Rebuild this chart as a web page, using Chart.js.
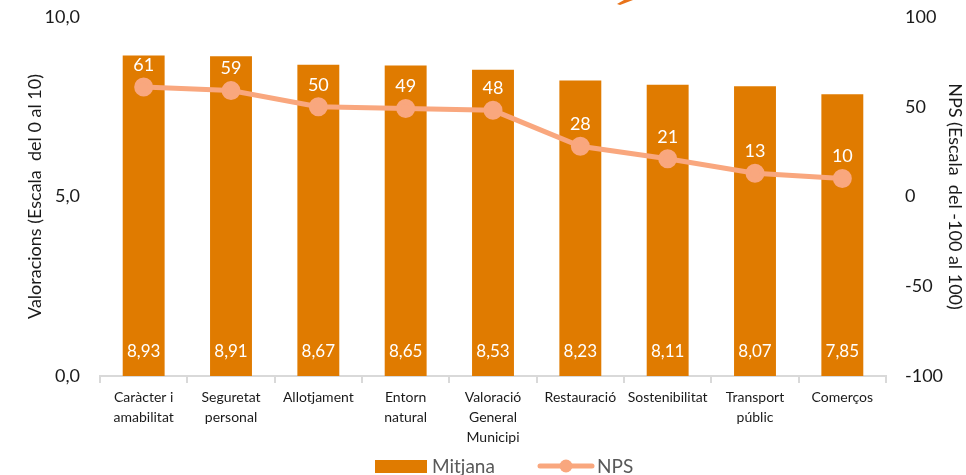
<!doctype html>
<html lang="ca">
<head>
<meta charset="UTF-8">
<title>Valoracions i NPS</title>
<script src="https://cdn.jsdelivr.net/npm/chart.js"></script>
<style>
  html, body { margin: 0; padding: 0; background: #fff; }
  #wrap { width: 966px; height: 475px; position: relative; }
</style>
</head>
<body>
<div id="wrap"><canvas id="chart"></canvas></div>
<script>
// dades
const categories = [
  ["Caràcter i", "amabilitat"],
  ["Seguretat", "personal"],
  "Allotjament",
  ["Entorn", "natural"],
  ["Valoració", "General", "Municipi"],
  "Restauració",
  "Sostenibilitat",
  ["Transport", "públic"],
  "Comerços"
];
const mitjana = [8.93, 8.91, 8.67, 8.65, 8.53, 8.23, 8.11, 8.07, 7.85];
const nps = [61, 59, 50, 49, 48, 28, 21, 13, 10];
const leftTicks = [0, 5, 10];
const rightTicks = [-100, -50, 0, 50, 100];

const BAR = "#E07B00";
const LINE = "#F9A77E";
const FONT = "Lato, 'Open Sans', sans-serif";

// etiquetes de valors + llegenda
const labelsPlugin = {
  id: "labels",
  beforeDraw(chart) {
    // tros de forma taronja retallat a dalt
    const ctx = chart.ctx;
    ctx.save();
    ctx.fillStyle = "#E8731A";
    ctx.beginPath();
    ctx.moveTo(617, 4);
    ctx.lineTo(624, 0);
    ctx.lineTo(633, 0);
    ctx.lineTo(620, 5);
    ctx.closePath();
    ctx.fill();
    ctx.restore();
  },
  afterDatasetsDraw(chart) {
    const ctx = chart.ctx;
    ctx.save();
    ctx.fillStyle = "#fff";
    ctx.textAlign = "center";
    ctx.textBaseline = "middle";
    ctx.font = "17px " + FONT;
    const y0 = chart.scales.y.getPixelForValue(0);
    chart.getDatasetMeta(1).data.forEach((bar, i) => {
      ctx.fillText(mitjana[i].toFixed(2).replace(".", ","), bar.x, y0 - 24);
    });
    ctx.font = "18px " + FONT;
    chart.getDatasetMeta(0).data.forEach((pt, i) => {
      ctx.fillText(String(nps[i]), pt.x, pt.y - 22);
    });
    ctx.restore();
  },
  afterDraw(chart) {
    const ctx = chart.ctx;
    ctx.save();
    const y = 466;
    ctx.fillStyle = BAR;
    ctx.fillRect(375, y - 6, 52, 13);
    ctx.fillStyle = "#595959";
    ctx.font = "19px " + FONT;
    ctx.textBaseline = "middle";
    ctx.fillText("Mitjana", 432, y + 1);
    ctx.strokeStyle = LINE;
    ctx.lineWidth = 5;
    ctx.lineCap = "round";
    ctx.beginPath();
    ctx.moveTo(540, y);
    ctx.lineTo(592, y);
    ctx.stroke();
    ctx.fillStyle = LINE;
    ctx.beginPath();
    ctx.arc(566, y, 6.5, 0, Math.PI * 2);
    ctx.fill();
    ctx.fillStyle = "#595959";
    ctx.fillText("NPS", 597, y + 1);
    ctx.restore();
  }
};

function fixY(width) {
  return s => { s.width = width; s.paddingTop = 0; s.paddingBottom = 0; };
}

new Chart(document.getElementById("chart"), {
  data: {
    labels: categories,
    datasets: [
      {
        type: "line",
        label: "NPS",
        data: nps,
        yAxisID: "y1",
        borderColor: LINE,
        backgroundColor: LINE,
        borderWidth: 5,
        pointRadius: 7,
        pointHoverRadius: 7,
        tension: 0,
        clip: false,
        order: 0
      },
      {
        type: "bar",
        label: "Mitjana",
        data: mitjana,
        yAxisID: "y",
        backgroundColor: BAR,
        barPercentage: 0.48,
        categoryPercentage: 1,
        order: 1
      }
    ]
  },
  options: {
    responsive: true,
    maintainAspectRatio: false,
    animation: false,
    layout: { autoPadding: false, padding: { top: 17, bottom: 29, left: 0, right: 0 } },
    plugins: { legend: { display: false }, tooltip: { enabled: false } },
    scales: {
      x: {
        offset: true,
        grid: { display: true, drawOnChartArea: false, offset: true, tickLength: 7, color: "#d9d9d9", lineWidth: 2 },
        border: { display: true, color: "#d9d9d9", width: 2 },
        ticks: { color: "#1a1a1a", font: { family: FONT, size: 14, lineHeight: 1.45 }, maxRotation: 0, autoSkip: false, padding: 4 },
        afterFit(s) { s.height = 70; s.paddingLeft = 0; s.paddingRight = 0; }
      },
      y: {
        position: "left",
        min: 0, max: 10,
        afterBuildTicks(s) { s.ticks = leftTicks.map(v => ({ value: v })); },
        grid: { display: false, drawTicks: false },
        border: { display: false },
        ticks: {
          color: "#1a1a1a", padding: 20,
          font: { family: FONT, size: 18 },
          callback: v => v.toFixed(1).replace(".", ",")
        },
        title: { display: true, text: "Valoracions (Escala  del 0 al 10)", color: "#1a1a1a", font: { family: FONT, size: 18 }, padding: { top: 24 } },
        afterFit: fixY(100)
      },
      y1: {
        position: "right",
        min: -100, max: 100,
        afterBuildTicks(s) { s.ticks = rightTicks.map(v => ({ value: v })); },
        grid: { display: false, drawTicks: false },
        border: { display: false },
        ticks: { color: "#1a1a1a", padding: 19, font: { family: FONT, size: 18 } },
        title: { display: true, text: "NPS (Escala  del -100 al 100)", color: "#1a1a1a", font: { family: FONT, size: 18 }, padding: { top: 0 } },
        afterFit: fixY(80)
      }
    }
  },
  plugins: [labelsPlugin]
});
</script>
</body>
</html>
